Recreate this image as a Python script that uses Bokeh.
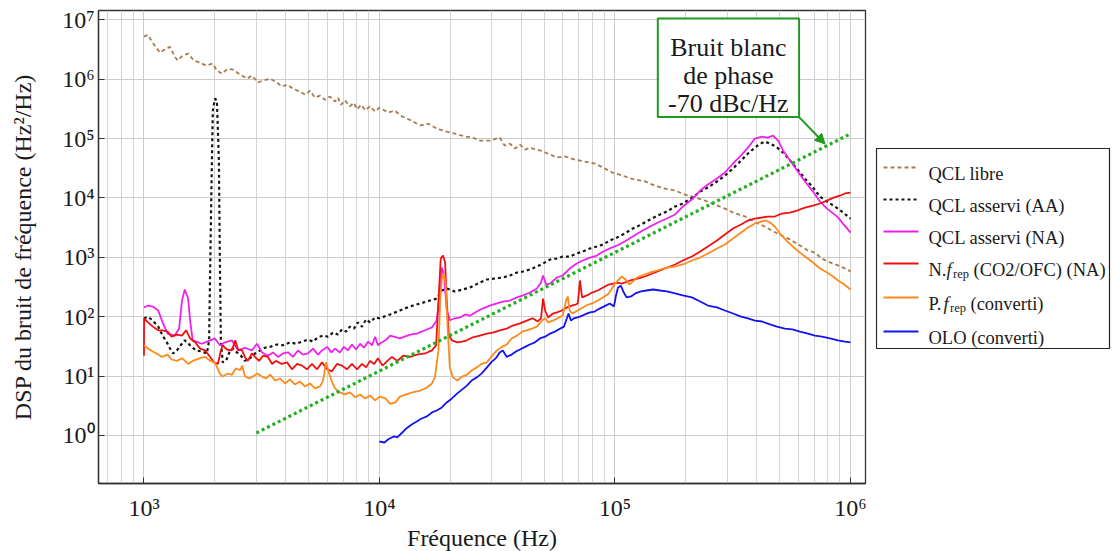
from bokeh.plotting import figure
from bokeh.layouts import row
from bokeh.models import FixedTicker, Range1d, BoxAnnotation, Label, Arrow, NormalHead
from bokeh.embed import file_html
from bokeh.resources import INLINE
from bokeh.core.properties import value

FONT = "Liberation Serif"

# ---------------- data (Hz, Hz^2/Hz) ----------------
f_libre = [1000,1040,1090,1170,1240,1290,1350,1390,1460,1540, 1630,1730,1830,1960,2040,2140,2270,2390,2560,2740,
           2870,3050,3200,3430,3670,3850,4050,4290,4590,4830, 5070,5320,5590,5870,6160,6470,6660,6860,7130,7490,
           7790,8030,8360,8700,9120,9580,1.0e4,1.09e4,1.16e4,1.25e4, 1.37e4,1.49e4,1.61e4,1.75e4,1.93e4,2.09e4,2.31e4,2.49e4,2.67e4,2.94e4,
           3.24e4,3.4e4,3.58e4,3.76e4,3.95e4,4.15e4,4.35e4,4.8e4,5.3e4,5.67e4, 6.13e4,6.76e4,7.45e4,8.22e4,8.9e4,9.7e4,1.07e5,1.18e5,1.34e5,1.48e5,
           1.63e5,1.8e5,1.98e5,2.19e5,2.41e5,2.66e5,2.93e5,3.23e5,3.56e5,3.93e5, 4.33e5,4.64e5,5.02e5,5.53e5,6.1e5,6.6e5,7.06e5,7.57e5,8.18e5,8.85e5,
           9.47e5,1.0e6]
v_libre = [5.2e6,5.6e6,4.1e6,2.8e6,3.3e6,3.5e6,2.4e6,2.06e6,2.5e6,2.7e6, 2.06e6,1.9e6,1.7e6,1.83e6,1.4e6,1.24e6,1.5e6,1.45e6,1.2e6,1.02e6,
           1.15e6,8.8e5,9.5e5,1.02e6,8.8e5,7.5e5,8.1e5,6.9e5,6.2e5,5.5e5, 6.4e5,4.9e5,5.3e5,4.5e5,5.1e5,4.2e5,4.9e5,3.7e5,4.4e5,3.5e5,
           4.0e5,3.1e5,3.7e5,3.0e5,3.5e5,2.85e5,3.3e5,2.75e5,2.95e5,2.35e5, 2.0e5,1.66e5,1.78e5,1.47e5,1.31e5,1.21e5,1.08e5,1.04e5,9.2e4,9.2e4,
           1.04e5,7.6e4,8.2e4,6.8e4,7.9e4,6.5e4,7.0e4,6.3e4,5.4e4,4.8e4, 5.0e4,4.4e4,4.1e4,3.8e4,3.25e4,2.7e4,2.4e4,2.1e4,1.9e4,1.6e4,
           1.44e4,1.33e4,1.14e4,1.02e4,9.0e3,7.7e3,6.6e3,5.5e3,4.9e3,3.9e3, 3.3e3,2.8e3,2.4e3,2.0e3,1.58e3,1.3e3,1.2e3,950,820,730,
           650,580]

f_aa = [1000,1040,1090,1150,1200,1250,1290,1330,1380,1440, 1490,1570,1660,1760,1850,1890,1930,1960,2000,2040,
        2080,2100,2120,2160,2230,2320,2390,2480,2580,2680, 2820,2960,3110,3260,3430,3670,3890,4170,4420,4690,
        4970,5220,5480,5760,6050,6350,6660,6930,7210,7490, 7790,8100,8430,8770,9120,9580,1.0e4,1.11e4,1.22e4,1.35e4,
        1.49e4,1.64e4,1.75e4,1.84e4,1.93e4,2.09e4,2.26e4,2.42e4,2.62e4,2.86e4, 3.09e4,3.34e4,3.58e4,3.84e4,4.07e4,4.35e4,4.66e4,4.95e4,5.3e4,5.67e4,
        6.0e4,6.42e4,6.88e4,7.3e4,7.83e4,8.37e4,8.9e4,9.5e4,1.02e5,1.10e5, 1.19e5,1.29e5,1.41e5,1.52e5,1.66e5,1.8e5,1.94e5,2.12e5,2.3e5,2.48e5,
        2.71e5,2.93e5,3.17e5,3.43e5,3.67e5,3.93e5,4.13e5,4.33e5,4.55e5,4.83e5, 5.17e5,5.53e5,5.93e5,6.41e5,6.93e5,7.42e5,7.95e5,8.43e5,8.85e5,9.29e5,
        1.0e6]
v_aa = [94,100,86,68,48,37,29,24,27,34, 40,33,27,26,24,40,9.0e3,2.95e5,4.7e5,4.4e5,
        4.3e4,880,40,17,18,27,29,25,22,18, 20,24,27,30,31,34,33,37,35,38,
        41,38,45,48,46,54,50,61,56,68, 63,80,68,90,80,97,94,109,127,149,
        167,187,202,276,298,266,287,310,362,423, 440,457,494,555,577,623,700,787,918,955,
        1030,1030,1160,1250,1410,1520,1640,1920,2150,2520, 3050,3560,4330,5060,5900,7160,8050,1.0e4,1.28e4,1.5e4,
        1.89e4,2.38e4,3.13e4,4.26e4,5.6e4,7.05e4,8.2e4,8.9e4,8.2e4,7.3e4, 5.8e4,4.3e4,3.1e4,2.1e4,1.5e4,1.05e4,8.7e3,7.5e3,6.6e3,5.7e3,
        4.5e3]

f_na = [1000,1040,1090,1150,1200,1260,1350,1410,1450,1490, 1540,1570,1610,1760,1910,2000,2100,2210,2360,2510,
        2680,2870,3020,3170,3360,3530,3710,3890,4090,4290, 4510,4730,4970,5220,5480,5700,5990,6250,6470,6790,
        7060,7340,7640,7950,8270,8590,8940,9300,9580,9850, 1.0e4,1.06e4,1.11e4,1.22e4,1.35e4,1.44e4,1.56e4,1.67e4,1.75e4,1.81e4,
        1.84e4,1.88e4,1.93e4,1.99e4,2.09e4,2.2e4,2.31e4,2.42e4,2.59e4,2.74e4, 2.94e4,3.15e4,3.34e4,3.58e4,3.84e4,4.07e4,4.35e4,4.66e4,4.85e4,4.95e4,
        5.1e4,5.3e4,5.67e4,6.0e4,6.42e4,6.88e4,7.3e4,7.83e4,8.37e4,8.9e4, 9.5e4,1.02e5,1.10e5,1.19e5,1.29e5,1.41e5,1.52e5,1.66e5,1.8e5,1.94e5,
        2.12e5,2.3e5,2.48e5,2.71e5,2.93e5,3.17e5,3.43e5,3.67e5,3.93e5,4.21e5, 4.45e5,4.69e5,4.93e5,5.17e5,5.53e5,5.93e5,6.41e5,6.93e5,7.42e5,7.95e5,
        8.43e5,8.85e5,9.29e5,9.65e5,1.0e6]
v_na = [143,154,148,127,80,52,48,63,187,287, 202,86,40,35,40,43,33,37,40,27,
        30,27,35,25,22,25,21,24,25,21, 27,23,24,29,23,27,31,25,29,25,
        31,27,34,28,35,30,38,33,46,33, 35,40,48,43,50,52,59,66,86,276,
        673,494,127,87,94,97,109,104,122,137, 154,167,180,187,211,228,255,298,376,494,
        348,361,457,494,647,786,883,990,1070,1250, 1410,1580,1850,2240,2720,3300,3850,4500,5260,7160,
        9400,1.33e4,1.68e4,2.12e4,2.68e4,3.8e4,5.2e4,7.05e4,1.0e5,1.08e5, 1.04e5,1.12e5,9.2e4,6.3e4,4.3e4,2.9e4,1.89e4,1.28e4,8.7e3,6.6e3,
        5.5e3,4.7e3,3.7e3,3.1e3,2.6e3]

f_nfrep = [1000,1001,1040,1090,1150,1200,1260,1310,1380,1450, 1510,1570,1650,1730,1820,1910,1980,2060,2120,2160,
           2250,2360,2440,2510,2610,2680,2760,2870,2960,3080, 3200,3360,3500,3630,3850,4050,4250,4470,4690,4920,
           5170,5430,5700,5990,6280,6600,6930,7270,7640,8030, 8430,8770,9120,9500,9850,1.03e4,1.08e4,1.13e4,1.19e4,1.26e4,
           1.35e4,1.44e4,1.56e4,1.67e4,1.74e4,1.79e4,1.82e4,1.86e4,1.9e4,1.93e4, 1.97e4,2.03e4,2.14e4,2.24e4,2.35e4,2.49e4,2.67e4,2.86e4,3.03e4,3.24e4,
           3.47e4,3.68e4,3.95e4,4.22e4,4.47e4,4.7e4,4.85e4,4.95e4,5.05e4,5.2e4, 5.45e4,5.67e4,5.95e4,6.25e4,6.55e4,6.8e4,6.95e4,7.1e4,7.25e4,7.6e4,
           8.0e4,8.45e4,8.9e4,9.4e4,9.8e4,1.02e5,1.07e5,1.16e5,1.26e5,1.34e5, 1.48e5,1.63e5,1.8e5,1.94e5,2.12e5,2.3e5,2.48e5,2.71e5,2.93e5,3.17e5,
           3.43e5,3.67e5,3.93e5,4.21e5,4.45e5,4.77e5,5.11e5,5.53e5,5.93e5,6.41e5, 6.93e5,7.42e5,7.95e5,8.43e5,9.07e5,9.47e5,1.0e6]
v_nfrep = [22,94,80,68,59,59,56,46,50,48, 59,43,37,29,27,21,17,16,27,33,
           28,27,40,28,27,21,18,24,21,18, 22,21,16,18,16,17,13,16,15,13,
           16,13,17,13,12,16,15,13,16,13, 16,14,18,16,20,15,18,21,18,22,
           21,23,24,27,33,276,954,1070,815,187, 48,40,37,38,40,45,48,52,54,59,
           63,71,77,86,94,83,94,202,127,97, 113,118,127,143,154,160,167,407,211,228,
           255,276,310,348,361,376,361,407,440,475, 555,647,757,883,1030,1250,1520,1920,2420,3050,
           3570,4160,4500,4680,4860,4860,5460,5680,6140,6890, 7450,8060,9030,1.0e4,1.1e4,1.19e4,1.23e4]

f_pfrep = [1000,1040,1090,1150,1190,1260,1310,1380,1450,1540, 1610,1730,1820,1910,2000,2100,2160,2270,2360,2460,
           2560,2610,2680,2790,2900,3020,3170,3300,3430,3600, 3780,3970,4170,4380,4590,4830,5070,5320,5590,5760,
           5930,6050,6250,6470,6790,7130,7490,7880,8270,8700, 9120,9580,1.0e4,1.06e4,1.11e4,1.17e4,1.22e4,1.3e4,1.38e4,1.49e4,
           1.59e4,1.67e4,1.72e4,1.78e4,1.81e4,1.84e4,1.88e4,1.91e4,1.95e4,1.99e4, 2.05e4,2.14e4,2.24e4,2.35e4,2.46e4,2.59e4,2.71e4,2.86e4,2.98e4,3.15e4,
           3.31e4,3.47e4,3.64e4,3.84e4,4.03e4,4.22e4,4.44e4,4.66e4,4.9e4,5.05e4, 5.2e4,5.45e4,5.72e4,6.0e4,6.2e4,6.3e4,6.42e4,6.6e4,6.95e4,7.3e4,
           7.7e4,8.0e4,8.45e4,8.9e4,9.4e4,9.7e4,1.0e5,1.03e5,1.07e5,1.12e5, 1.15e5,1.19e5,1.24e5,1.3e5,1.41e5,1.52e5,1.66e5,1.8e5,1.94e5,2.12e5,
           2.3e5,2.48e5,2.71e5,2.93e5,3.17e5,3.43e5,3.67e5,3.93e5,4.21e5,4.38e5, 4.55e5,4.77e5,5.02e5,5.39e5,5.75e5,6.1e5,6.5e5,6.93e5,7.42e5,7.95e5,
           8.43e5,8.85e5,9.29e5,9.65e5,1.0e6]
v_pfrep = [33,29,26,23,21,23,19,18,20,16, 18,20,21,18,17,11,9.8,11,10.5,13.5,
           12.5,15,10,9.1,9.8,11,9.8,9.1,10.6,8.4, 9.1,7.5,8.8,7.2,8.1,6.7,7.5,6.2,6.7,8.4,
           17,12.5,8.4,6.2,5.3,4.9,5.3,4.4,4.9,4.2, 4.7,3.9,4.5,4.2,3.4,3.6,4.5,4.9,5.3,5.7,
           6.4,7.5,9.5,27,187,440,533,350,59,13.5, 9.5,8.4,9.8,10.5,12.4,14,16,17,21,27,
           31,34,43,48,56,59,63,68,86,94, 80,86,94,105,187,219,127,113,127,143,
           160,167,187,211,246,298,361,407,475,407, 348,390,457,494,555,600,673,700,757,883,
           990,1160,1410,1640,2070,2620,3180,3710,4030,4170, 3850,3300,2510,1850,1460,1200,990,815,647,555,
           475,407,361,322,287]

f_olo = [1.0e4,1.05e4,1.09e4,1.15e4,1.19e4,1.25e4,1.3e4,1.37e4,1.44e4,1.51e4, 1.59e4,1.67e4,1.75e4,1.84e4,1.93e4,2.03e4,2.14e4,2.24e4,2.35e4,2.46e4,
         2.59e4,2.71e4,2.86e4,2.98e4,3.12e4,3.24e4,3.34e4,3.47e4,3.64e4,3.8e4, 3.95e4,4.15e4,4.35e4,4.57e4,4.8e4,5.05e4,5.3e4,5.56e4,5.85e4,6.07e4,
         6.25e4,6.35e4,6.5e4,6.7e4,7.1e4,7.45e4,7.83e4,8.2e4,8.6e4,9.0e4, 9.5e4,9.9e4,1.01e5,1.03e5,1.06e5,1.09e5,1.12e5,1.17e5,1.22e5,1.29e5,
         1.36e5,1.45e5,1.55e5,1.66e5,1.8e5,1.94e5,2.12e5,2.3e5,2.48e5,2.71e5, 2.93e5,3.17e5,3.43e5,3.67e5,3.93e5,4.21e5,4.55e5,4.87e5,5.26e5,5.66e5,
         6.1e5,6.6e5,7.06e5,7.57e5,8.18e5,8.85e5,9.47e5,1.0e6]
v_olo = [0.79,0.76,0.86,0.96,0.93,1.12,1.31,1.53,1.72,1.93, 2.09,2.44,2.63,2.96,3.59,4.2,5.1,5.9,6.9,8.4,
         9.5,11,14,17,20,25,27,21,23,26, 28,31,34,37,43,46,52,56,63,68,
         94,113,86,94,100,109,118,122,137,149, 167,149,228,310,330,255,211,219,246,266,
         276,287,276,266,246,228,211,180,154,143, 127,113,100,94,86,83,74,68,63,61,
         56,52,48,46,43,40,38,37]

f_wpn = [3000, 1.0e6]
v_wpn = [1.1, 1.2e5]

x_ticks = [1000, 10000, 100000, 1000000]
x_tick_labels = ["10³", "10⁴", "10⁵", "10⁶"]
y_ticks = [1, 10, 100, 1000, 10000, 100000, 1000000, 10000000]
y_tick_labels = ["10⁰", "10¹", "10²", "10³", "10⁴", "10⁵", "10⁶", "10⁷"]

legend_names = ["QCL libre", "QCL asservi (AA)", "QCL asservi (NA)", "N.", "P.", "OLO (converti)"]
legend_sub = ["", "", "", "rep", "rep", ""]
legend_tail = ["", "", "", "(CO2/OFC) (NA)", "(converti)", ""]

annot_lines = ["Bruit blanc", "de phase", "-70 dBc/Hz"]

# ---------------- styles ----------------
C_LIBRE = "#a67c52"
C_AA = "#151515"
C_NA = "#f020f0"
C_NF = "#f01010"
C_PF = "#ff8a1c"
C_OLO = "#1414f0"
C_WPN = "#22b022"
C_BOX = "#1f9a1f"

styles = [
    (C_LIBRE, 1.8, "4 3"),
    (C_AA, 2.2, "3 3"),
    (C_NA, 1.8, "solid"),
    (C_NF, 1.8, "solid"),
    (C_PF, 1.8, "solid"),
    (C_OLO, 1.8, "solid"),
]

FW, FH = 767, 473
BL, BR, BT = 98, 10, 10

p = figure(x_axis_type="log", y_axis_type="log", frame_width=FW, frame_height=FH,
           x_range=Range1d(641, 1.158e6), y_range=Range1d(0.155, 1.435e7),
           min_border_left=BL, min_border_right=BR, min_border_top=BT, min_border_bottom=5,
           toolbar_location=None, output_backend="svg")
p.background_fill_color = "white"
p.border_fill_color = "white"
p.outline_line_color = "#333333"
p.outline_line_width = 1.3

minor_x = [m * 10 ** k for k in range(2, 6) for m in range(2, 10) if 641 < m * 10 ** k < 1.158e6]
p.xaxis.ticker = FixedTicker(ticks=x_ticks, minor_ticks=minor_x)
p.yaxis.ticker = FixedTicker(ticks=y_ticks, minor_ticks=[])
p.xaxis.major_label_overrides = {int(t): s for t, s in zip(x_ticks, x_tick_labels)}
p.yaxis.major_label_overrides = {int(t): s for t, s in zip(y_ticks, y_tick_labels)}

for ax in (p.xaxis[0], p.yaxis[0]):
    ax.axis_line_color = "#333333"
    ax.axis_line_width = 1.3
    ax.major_tick_in = 6
    ax.major_tick_out = 0
    ax.minor_tick_in = 0
    ax.minor_tick_out = 0
    ax.major_tick_line_color = "#333333"
    ax.major_label_text_font = FONT
    ax.major_label_text_font_size = "24px"
    ax.major_label_text_color = "#1a1a1a"
    ax.axis_label_text_font = FONT
    ax.axis_label_text_font_size = "24px"
    ax.axis_label_text_font_style = "normal"
    ax.axis_label_text_color = "#1a1a1a"
p.xaxis.axis_label = "Fréquence (Hz)"
p.yaxis.axis_label = "DSP du bruit de fréquence (Hz²/Hz)"
p.xaxis.major_label_standoff = 11
p.yaxis.major_label_standoff = 4
p.xaxis.axis_label_standoff = 1
p.yaxis.axis_label_standoff = 23

p.xgrid.grid_line_color = "#cccccc"
p.xgrid.minor_grid_line_color = "#d4d4d4"
p.ygrid.grid_line_color = "#cccccc"

series = [(f_libre, v_libre), (f_aa, v_aa), (f_na, v_na), (f_nfrep, v_nfrep), (f_pfrep, v_pfrep), (f_olo, v_olo)]
for (fx, vy), (col, lw, dash) in zip(series, styles):
    p.line(fx, vy, line_color=col, line_width=lw, line_dash=dash)
p.line(f_wpn, v_wpn, line_color=C_WPN, line_width=3.2, line_dash="3 3")

# annotation box
p.add_layout(BoxAnnotation(left=1.52e5, right=6.05e5, top=1.05e7, bottom=2.3e5,
                           fill_color="white", fill_alpha=1.0, line_color=C_BOX, line_alpha=1.0, line_width=2))
for txt, yy in zip(annot_lines, [3.4e6, 1.15e6, 3.88e5]):
    p.add_layout(Label(x=3.03e5, y=yy, text=txt, text_align="center", text_baseline="alphabetic",
                       text_font=FONT, text_font_size="26px", text_color="#1a1a1a"))
p.add_layout(Arrow(end=NormalHead(size=10, fill_color=C_BOX, line_color=C_BOX),
                   x_start=6.05e5, y_start=2.3e5, x_end=7.8e5, y_end=8.1e4,
                   line_color=C_BOX, line_width=2))

# ---------------- legend (separate panel, page-pixel coordinates) ----------------
# the row aligns the legend panel's frame top with the main frame top (page y = BT)
W1 = BL + FW + BR
LX0 = W1
LW, LH = 236, 360
leg = figure(frame_width=LW, frame_height=LH, x_range=Range1d(LX0, LX0 + LW), y_range=Range1d(BT + LH, BT),
             min_border=0, x_axis_location=None, y_axis_location=None,
             toolbar_location=None, output_backend="svg")
leg.grid.visible = False
leg.outline_line_color = None
leg.background_fill_color = "white"
leg.border_fill_color = "white"
leg.quad(left=[LX0 + 1], right=[LX0 + LW - 2], top=[148], bottom=[348], fill_color="white",
         line_color="#222222", line_width=1.2)

entry_y = [167, 199, 231, 263, 297, 331]
FS = 18.5
for i, (ey, (col, lw, dash)) in enumerate(zip(entry_y, styles)):
    leg.line([LX0 + 8, LX0 + 43], [ey, ey], line_color=col, line_width=lw if dash == "solid" else 1.8, line_dash=dash)
    tx = LX0 + 53
    leg.text(x=[tx], y=[ey + 6], text=[legend_names[i]], text_font=value(FONT), text_font_size=f"{FS}px",
             text_baseline="alphabetic", text_color="#1a1a1a")
    if legend_sub[i]:
        pre_w = 18.0 if legend_names[i] == "N." else 15.0
        fx0 = tx + pre_w
        leg.text(x=[fx0], y=[ey + 6], text=["f"], text_font=value(FONT), text_font_size=f"{FS}px",
                 text_font_style="italic", text_baseline="alphabetic", text_color="#1a1a1a")
        leg.text(x=[fx0 + 6.5], y=[ey + 10], text=[legend_sub[i]], text_font=value(FONT), text_font_size="12.5px",
                 text_baseline="alphabetic", text_color="#1a1a1a")
        leg.text(x=[fx0 + 6.5 + 16 + 4.5], y=[ey + 6], text=[legend_tail[i]], text_font=value(FONT),
                 text_font_size=f"{FS}px", text_baseline="alphabetic", text_color="#1a1a1a")

layout = row(p, leg)
open("out.html", "w").write(file_html(layout, INLINE))
